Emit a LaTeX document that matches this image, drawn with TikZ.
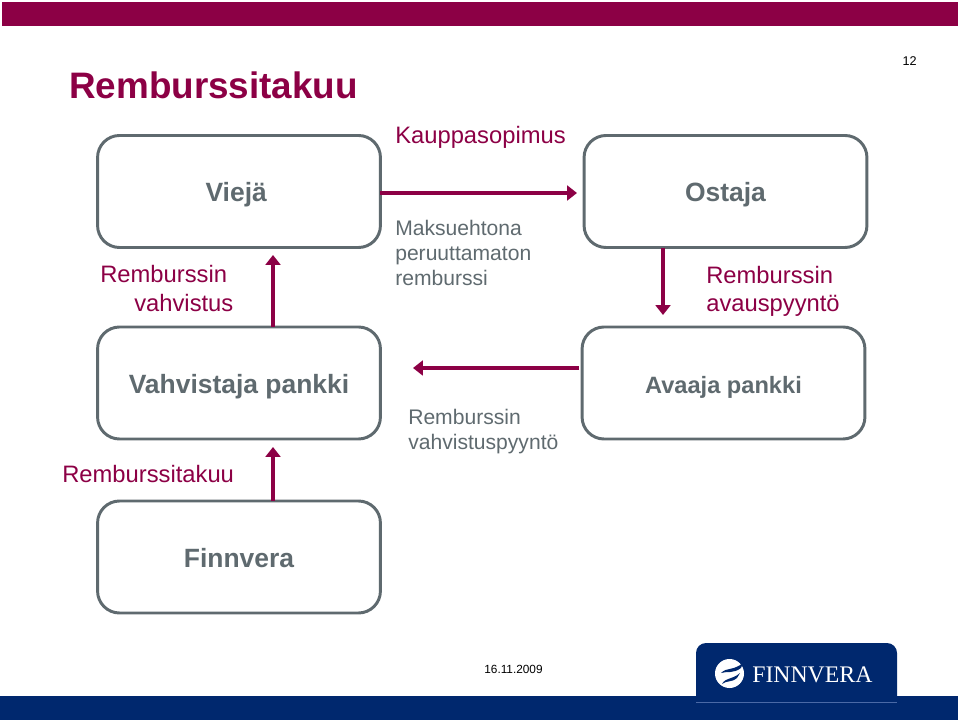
\documentclass[tikz,border=0pt]{standalone}
\usepackage{fontspec}
\setmainfont{Liberation Sans}
\newfontfamily\logofont{Liberation Serif}
\usetikzlibrary{arrows.meta}
\definecolor{crimson}{HTML}{8C0045}
\definecolor{slategray}{HTML}{5F6A6F}
\definecolor{navyblue}{HTML}{00286E}
\definecolor{navyline}{HTML}{4A69A6}
\tikzset{
  partybox/.style={draw=slategray, line width=2.1pt, rounded corners=0.55cm, fill=white,
    minimum width=7.07cm, minimum height=2.8cm, inner sep=0pt, outer sep=0pt,
    text=slategray, font=\fontsize{18.8}{20}\selectfont\bfseries, text height=14.5pt, text depth=0pt},
  flow/.style={draw=crimson, line width=2.4pt, -{Triangle[length=7pt,width=10.5pt]}},
  redlabel/.style={anchor=base west, text=crimson, inner sep=0pt, font=\fontsize{16.9}{20}\selectfont},
  graylabel/.style={anchor=base west, text=slategray, inner sep=0pt, font=\fontsize{15}{18.1}\selectfont, align=left},
}
\begin{document}
\begin{tikzpicture}[x=0.025cm, y=-0.025cm]
    \useasboundingbox (0, 0) rectangle (960, 720);
    \fill[crimson] (2, 2) rectangle (958, 26);
    \node (otsikko) [anchor=base west, inner sep=0pt, text=crimson, font=\fontsize{26.2}{30}\selectfont\bfseries] at (69, 99) {Remburssitakuu};
    \node (sivu) [anchor=base east, inner sep=0pt, font=\fontsize{9}{10}\selectfont] at (917, 66) {12};

    % boxes
    \node (vieja) [partybox] at (239, 191.5) {\hspace*{-4pt}Viejä};
    \node (ostaja) [partybox] at (725.5, 191.5) {Ostaja};
    \node (vahvistaja) [partybox] at (239, 383) {Vahvistaja pankki};
    \node (avaaja) [partybox, font=\fontsize{16.8}{20}\selectfont\bfseries] at (723.5, 383) {Avaaja pankki};
    \node (finnvera) [partybox] at (239, 557) {Finnvera};

    % free ends of the arrows
    \coordinate (ostajatip) at (577, 193);
    \coordinate (avaajatip) at (663, 315);
    \coordinate (vasentip) at (413, 368);
    \coordinate (vasenalku) at (579, 368);
    \coordinate (viejatip) at (273, 255);
    \coordinate (vahvistajatip) at (273, 447);

    \draw[flow] (vieja.east |- ostajatip) -- (ostajatip);
    \draw[flow] (ostaja.south -| avaajatip) -- (avaajatip);
    \draw[flow] (vasenalku) -- (vasentip);
    \draw[flow] (vahvistaja.north -| viejatip) -- (viejatip);
    \draw[flow] (finnvera.north -| vahvistajatip) -- (vahvistajatip);

    % labels
    \node (kauppa) [redlabel] at (395, 144) {Kauppasopimus};
    \node (maksu) [graylabel] at (395, 286) {Maksuehtona\\peruuttamaton\\remburssi};
    \node (vahvistus1) [redlabel] at (100, 283) {Remburssin};
    \node (vahvistus2) [redlabel] at (134, 312) {vahvistus};
    \node (avaus) [redlabel, align=left, font=\fontsize{16.9}{20.6}\selectfont] at (706, 312) {Remburssin\\avauspyyntö};
    \node (pyynto) [graylabel] at (408, 450) {Remburssin\\vahvistuspyyntö};
    \node (takuu) [redlabel] at (62, 483) {Remburssitakuu};

    % footer
    \node (paiva) [anchor=base, inner sep=0pt, font=\fontsize{8.4}{10}\selectfont] at (513.5, 673) {16.11.2009};
    \fill[navyblue] (0, 696) rectangle (958, 720);
    \fill[navyblue] (696, 697) [rounded corners=0.25cm] -- (696, 643) -- (897, 643) [sharp corners] -- (897, 697) -- cycle;
    \draw[navyline, line width=0.5pt] (696, 702) -- (897, 702);
    \fill[white] (729.5, 673.5) circle (14.5);
    \fill[navyblue] (721, 673) .. controls (727, 667) and (733, 671) .. (743, 663) -- (741, 668) .. controls (733, 674) and (727, 671) .. cycle;
    \fill[navyblue] (722, 684) .. controls (726, 677) and (732, 680) .. (740, 673) -- (737, 678) .. controls (731, 683) and (727, 680) .. cycle;
    \node (logo) [anchor=base west, inner sep=0pt, text=white, font=\logofont\fontsize{16.9}{20}\selectfont] at (752, 682) {FINNVERA};
\end{tikzpicture}
\end{document}
